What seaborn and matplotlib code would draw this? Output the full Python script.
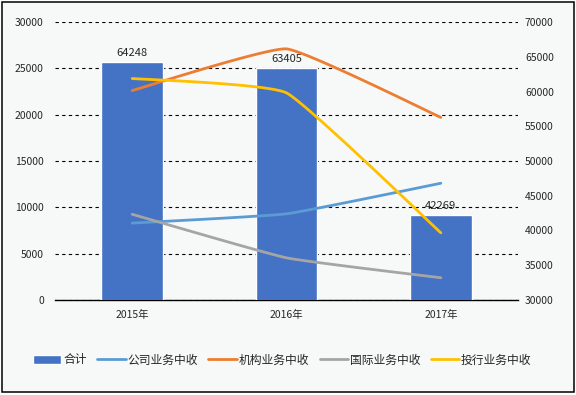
import numpy as np
import matplotlib
matplotlib.use('Agg')
import matplotlib.pyplot as plt
from matplotlib.patches import Rectangle
import seaborn as sns

# data
years = ['2015年', '2016年', '2017年']
total = [64248, 63405, 42269]          # bars, right axis
corporate = [8300, 9300, 12600]        # 公司业务中收
institution = [22600, 27100, 19700]    # 机构业务中收
international = [9250, 4550, 2400]     # 国际业务中收
ibanking = [23900, 22350, 7250]        # 投行业务中收

sns.set_style('white')
plt.rcParams['font.family'] = ['Noto Sans CJK SC', 'DejaVu Sans']
plt.rcParams['font.size'] = 7.5


def smooth(vals, steps=40, t=0.06):
    # Excel style smoothed line: cubic bezier through each point
    pts = np.column_stack([np.arange(len(vals), dtype=float), np.asarray(vals, float)])
    n = len(pts)
    out = [pts[0]]
    s = np.linspace(0, 1, steps)[1:, None]
    for i in range(n - 1):
        p0, p1 = pts[max(i - 1, 0)], pts[i]
        p2, p3 = pts[i + 1], pts[min(i + 2, n - 1)]
        c1 = p1 + (p2 - p0) * t
        c2 = p2 - (p3 - p1) * t
        seg = (1 - s)**3 * p1 + 3 * (1 - s)**2 * s * c1 + 3 * (1 - s) * s**2 * c2 + s**3 * p2
        out.extend(seg)
    out = np.array(out)
    return out[:, 0], out[:, 1]


fig = plt.figure(figsize=(5.76, 3.95), dpi=100, facecolor='white')
fig.patches.append(Rectangle((2 / 576, 3 / 395), 572 / 576, 390 / 395, transform=fig.transFigure,
                             facecolor='#f7f9f9', edgecolor='black', lw=1.1, zorder=-1))

ax = fig.add_axes([55 / 576, 1 - 300 / 395, 463 / 576, 278 / 395])
ax.patch.set_visible(False)
ax2 = ax.twinx()
ax3 = ax.twinx()

# bars on the right-hand axis
sns.barplot(x=years, y=total, ax=ax2, color='#4472C4', width=0.4, saturation=1, label='合计')
ax2.bar_label(ax2.containers[0], fmt='%d', padding=3, fontsize=8)

# smoothed lines on the left-hand axis
series = [('公司业务中收', corporate, '#5B9BD5'),
          ('机构业务中收', institution, '#ED7D31'),
          ('国际业务中收', international, '#A5A5A5'),
          ('投行业务中收', ibanking, '#FFC000')]
for name, vals, col in series:
    xs, ys = smooth(vals)
    sns.lineplot(x=xs, y=ys, ax=ax3, color=col, lw=2.0, sort=False, estimator=None, label=name)

for a in (ax, ax2, ax3):
    a.set_xlim(-0.5, 2.5)
    for sp in a.spines.values():
        sp.set_visible(False)
    a.set_xlabel('')
    a.set_ylabel('')

ax.set_ylim(0, 30000)
ax.set_yticks(range(0, 30001, 5000))
ax.yaxis.grid(True, color='black', lw=0.8, linestyle=(0, (3, 3)))
ax.spines['bottom'].set_visible(True)
ax.spines['bottom'].set_color('black')
ax.spines['bottom'].set_linewidth(1)
ax.tick_params(axis='y', length=0, pad=8)
ax.set_xticks(range(len(years)), years)
ax.tick_params(axis='x', length=0, pad=7)

ax2.set_ylim(30000, 70000)
ax2.set_yticks(range(30000, 70001, 5000))
ax2.tick_params(axis='y', length=0, pad=5)
ax2.grid(False)

ax3.set_ylim(0, 30000)
ax3.set_yticks([])
ax3.grid(False)

h2, l2 = ax2.get_legend_handles_labels()
h3, l3 = ax3.get_legend_handles_labels()
for a in (ax2, ax3):
    if a.get_legend() is not None:
        a.get_legend().remove()
fig.legend(h2 + h3, l2 + l3, loc='center', bbox_to_anchor=(0.49, 1 - 360 / 395), ncol=5,
           frameon=False, handlelength=2.4, handletextpad=0.15, columnspacing=0.9, fontsize=8.5)

fig.savefig('out.png', dpi=100, facecolor='white')
